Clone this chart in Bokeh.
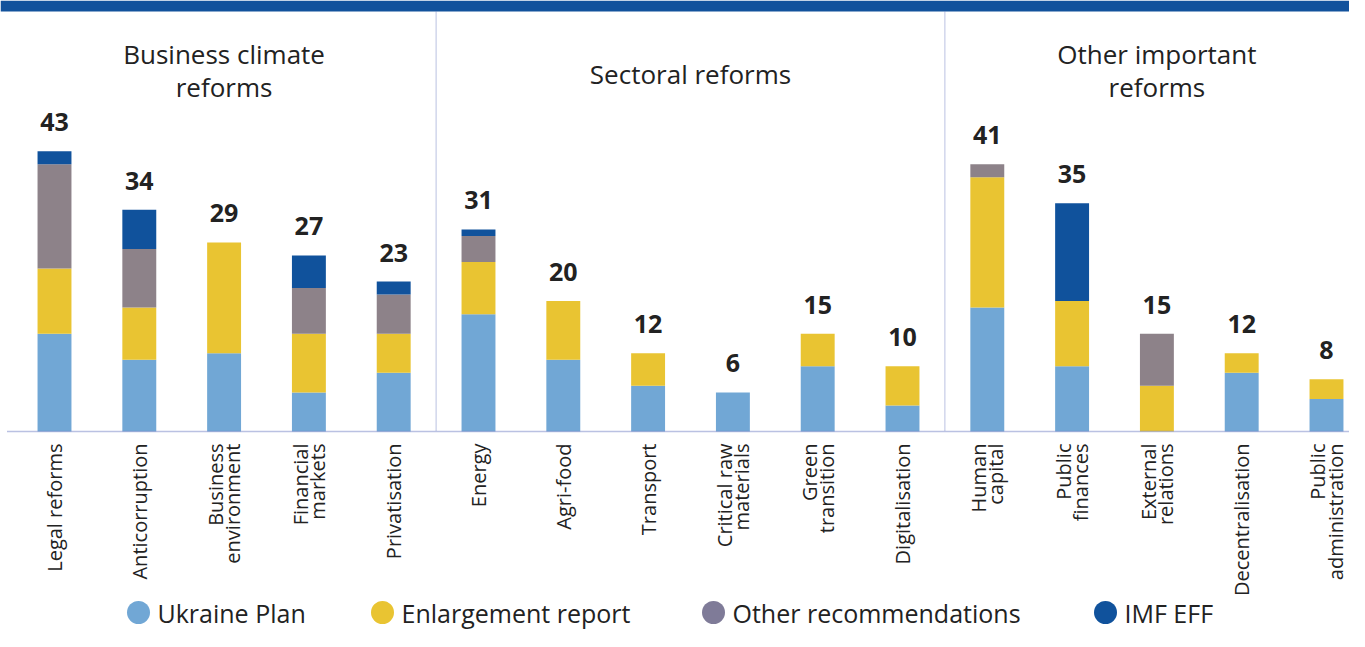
import numpy as np
from bokeh.plotting import figure
from bokeh.models import Range1d, ColumnDataSource
from bokeh.core.properties import value
from bokeh.embed import file_html
from bokeh.resources import INLINE

# ---------------- data ----------------
categories = ["Legal reforms", "Anticorruption", "Business\nenvironment", "Financial\nmarkets",
              "Privatisation", "Energy", "Agri-food", "Transport", "Critical raw\nmaterials",
              "Green\ntransition", "Digitalisation", "Human\ncapital", "Public\nfinances",
              "External\nrelations", "Decentralisation", "Public\nadministration"]
series = ["Ukraine Plan", "Enlargement report", "Other recommendations", "IMF EFF"]
ukraine_plan = [15, 11, 12, 6, 9, 18, 11, 7, 6, 10, 4, 19, 10, 0, 9, 5]
enlargement_report = [10, 8, 17, 9, 6, 8, 9, 5, 0, 5, 6, 20, 10, 7, 3, 3]
other_recommendations = [16, 9, 0, 7, 6, 4, 0, 0, 0, 0, 0, 2, 0, 8, 0, 0]
imf_eff = [2, 6, 0, 5, 2, 1, 0, 0, 0, 0, 0, 0, 15, 0, 0, 0]
sections = ["Business climate\nreforms", "Sectoral reforms", "Other important\nreforms"]
section_sizes = [5, 6, 5]

# ---------------- style / layout ----------------
colors = ["#71a7d5", "#e9c432", "#8d8289", "#10529c"]
legend_colors = ["#71a7d5", "#e9c432", "#7f7b98", "#10529c"]
TEXT = "#222222"
DOT = "#7483c4"
FONT = "Open Sans"
W, H = 1349, 631
PX_X = 84.8          # pixels per category slot
PX_Y = 6.52          # pixels per unit
X0_PX = 54           # pixel of first category centre
BASE_PX = 431        # pixel (from top) of baseline
BAND_PX = 11
legend_px = [138, 382, 713, 1105]
legend_y_px = 612
title_y_px = [70, 73, 70]

x_start = -X0_PX / PX_X
x_end = x_start + W / PX_X
y_end = BASE_PX / PX_Y
y_start = -(H - BASE_PX) / PX_Y

def ypx(px):  # pixel from top -> data y
    return (BASE_PX - px) / PX_Y

def xpx(px):  # pixel from left -> data x
    return (px - X0_PX) / PX_X

xs = list(range(len(categories)))
keys = ["up", "er", "or", "imf"]
src = ColumnDataSource(dict(x=xs, up=ukraine_plan, er=enlargement_report,
                            **{"or": other_recommendations}, imf=imf_eff))
totals = [a + b + c + d for a, b, c, d in zip(ukraine_plan, enlargement_report,
                                               other_recommendations, imf_eff)]

p = figure(width=W, height=H, x_range=Range1d(x_start, x_end), y_range=Range1d(y_start, y_end),
           output_backend="svg", toolbar_location=None, x_axis_type=None, y_axis_type=None,
           min_border=0, min_border_left=0, min_border_right=0, min_border_top=0,
           min_border_bottom=0)
p.outline_line_color = None
p.grid.visible = False
p.background_fill_color = "white"

# top band
p.quad(left=[x_start], right=[x_end], top=[y_end], bottom=[ypx(BAND_PX)],
       fill_color="#12529c", line_color=None)

# section separators
bounds = np.cumsum(section_sizes)[:-1] - 0.5
for b in bounds:
    p.segment(x0=[b], x1=[b], y0=[ypx(BAND_PX)], y1=[0], line_color=DOT,
              line_width=1, line_dash="1 1")

# stacked bars
p.vbar_stack(keys, x="x", width=0.4, color=colors, line_color=None, source=src)

# baseline
p.segment(x0=[xpx(7)], x1=[x_end], y0=[0], y1=[0], line_color=DOT,
          line_width=1.3, line_dash="1 1")

# totals
p.text(x=xs, y=[t + 29 / PX_Y for t in totals], text=[str(t) for t in totals],
       text_align="center", text_baseline="alphabetic", text_font=value(FONT),
       text_font_style="bold", text_font_size="25px", text_color=TEXT)

# category labels
p.text(x=xs, y=[ypx(443)] * len(xs), text=categories, angle=np.pi / 2,
       text_align="right", text_baseline="middle", text_font=value(FONT),
       text_font_size="20px", text_color=TEXT, text_line_height=0.64)

# section titles
starts = np.concatenate([[0], np.cumsum(section_sizes)[:-1]])
centers = [s + (n - 1) / 2 for s, n in zip(starts, section_sizes)]
p.text(x=centers, y=[ypx(v) for v in title_y_px], text=sections, text_align="center",
       text_baseline="middle", text_font=value(FONT), text_font_size="26px",
       text_color=TEXT, text_line_height=0.9)

# legend
lx = [xpx(v) for v in legend_px]
ly = [ypx(legend_y_px)] * len(series)
p.scatter(x=lx, y=ly, size=23, marker="circle", fill_color=legend_colors, line_color=None)
p.text(x=lx, y=ly, text=series, x_offset=19, text_align="left", text_baseline="middle",
       text_font=value(FONT), text_font_size="25px", text_color=TEXT)

open("out.html", "w").write(file_html(p, INLINE))
